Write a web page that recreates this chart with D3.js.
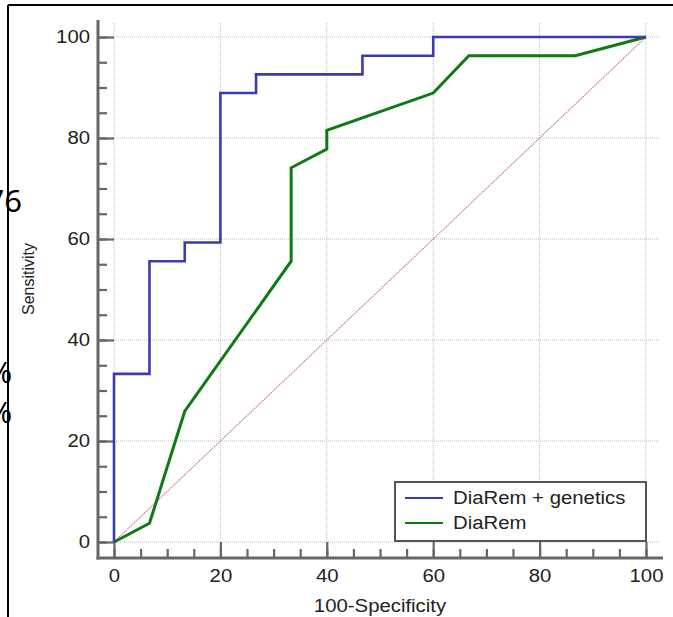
<!DOCTYPE html>
<html>
<head>
<meta charset="utf-8">
<script src="https://cdn.jsdelivr.net/npm/d3@7"></script>
<style>
  body { margin: 0; background: #fff; }
  text { font-family: "Liberation Sans", Arial, sans-serif; fill: #222; }
</style>
</head>
<body>
<div id="chart"></div>
<script>
var width = 673,
    height = 617;

// ROC points, x = 100-Specificity, y = Sensitivity
var genX = [0, 0, 6.67, 6.67, 13.3, 13.3, 20, 20, 26.7, 26.7, 46.7, 46.7, 60, 60, 100];
var genY = [0, 33.3, 33.3, 55.6, 55.6, 59.3, 59.3, 88.9, 88.9, 92.6, 92.6, 96.3, 96.3, 100, 100];
var diaX = [0, 6.67, 13.3, 33.3, 33.3, 40, 40, 60, 66.7, 86.7, 100];
var diaY = [0, 3.7, 25.9, 55.6, 74.1, 77.8, 81.5, 88.9, 96.3, 96.3, 100];
var majorTicks = [0, 20, 40, 60, 80, 100];
var minorTicks = d3.range(0, 101, 5);
var seriesNames = ["DiaRem + genetics", "DiaRem"];
var seriesColors = ["#3b3bb0", "#0f7a12"];

var svg = d3.select("#chart").append("svg").attr("width", width).attr("height", height);

var x = d3.scaleLinear().domain([0, 100]).range([114, 646]);
var y = d3.scaleLinear().domain([0, 100]).range([542, 37]);

// widen horizontal text a little, the source picture was stretched
function stretch(sel) {
  sel.each(function() {
    var len = this.getComputedTextLength();
    d3.select(this).attr("textLength", len * 1.13).attr("lengthAdjust", "spacingAndGlyphs");
  });
}

// slide leftovers
svg.append("line").attr("x1", 8).attr("y1", 5).attr("x2", width).attr("y2", 5)
  .attr("stroke", "#000").attr("stroke-width", 2);
svg.append("line").attr("x1", 8).attr("y1", 5).attr("x2", 8).attr("y2", height)
  .attr("stroke", "#000").attr("stroke-width", 2);
svg.append("text").attr("x", 22).attr("y", 212).attr("text-anchor", "end").text("76")
  .style("font-family", "Noto Sans").style("font-size", "31px").style("fill", "#000");
svg.append("text").attr("x", 12).attr("y", 383).attr("text-anchor", "end").text("%")
  .style("font-family", "Noto Sans").style("font-size", "29px").style("fill", "#000");
svg.append("text").attr("x", 12).attr("y", 423).attr("text-anchor", "end").text("%")
  .style("font-family", "Noto Sans").style("font-size", "29px").style("fill", "#000");

// grid
var grid = svg.append("g").attr("stroke", "#bdbdbd").attr("stroke-width", 1).attr("stroke-dasharray", "1,1");
grid.selectAll(".gx").data(majorTicks).enter().append("line")
  .attr("x1", d => x(d)).attr("x2", d => x(d))
  .attr("y1", y(100) - 14).attr("y2", y(0));
grid.selectAll(".gy").data(majorTicks).enter().append("line")
  .attr("y1", d => y(d)).attr("y2", d => y(d))
  .attr("x1", x(0)).attr("x2", x(100) + 14);

// axes
var axisColor = "#666";
var yAxisX = x(0) - 16, xAxisY = y(0) + 16;

var yMinor = svg.append("g").attr("transform", "translate(" + yAxisX + ",0)")
  .call(d3.axisLeft(y).tickValues(minorTicks).tickSizeInner(-9).tickSizeOuter(0).tickFormat(""));
var yMajor = svg.append("g").attr("transform", "translate(" + yAxisX + ",0)")
  .call(d3.axisLeft(y).tickValues(majorTicks).tickSizeInner(-16).tickSizeOuter(0).tickPadding(8));
var xMinor = svg.append("g").attr("transform", "translate(0," + xAxisY + ")")
  .call(d3.axisBottom(x).tickValues(minorTicks).tickSizeInner(-9).tickSizeOuter(0).tickFormat(""));
var xMajor = svg.append("g").attr("transform", "translate(0," + xAxisY + ")")
  .call(d3.axisBottom(x).tickValues(majorTicks).tickSizeInner(-16).tickSizeOuter(0).tickPadding(11));

[yMinor, yMajor, xMinor, xMajor].forEach(function(g) {
  g.select(".domain").remove();
  g.selectAll(".tick line").attr("stroke", axisColor).attr("stroke-width", 2.2);
  g.selectAll(".tick text").style("font-size", "18px").style("font-family", "Liberation Sans").attr("fill", "#222");
});
yMajor.selectAll(".tick text").call(stretch);
xMajor.selectAll(".tick text").call(stretch);

svg.append("line").attr("x1", yAxisX).attr("x2", yAxisX)
  .attr("y1", y(100) - 17).attr("y2", xAxisY + 1.5)
  .attr("stroke", axisColor).attr("stroke-width", 3);
svg.append("line").attr("x1", yAxisX - 1.5).attr("x2", x(100) + 17)
  .attr("y1", xAxisY).attr("y2", xAxisY)
  .attr("stroke", axisColor).attr("stroke-width", 3);

// titles
svg.append("text").attr("x", (x(0) + x(100)) / 2).attr("y", 612)
  .attr("text-anchor", "middle").style("font-size", "18px").text("100-Specificity").call(stretch);
svg.append("text").attr("transform", "translate(34,279) rotate(-90)")
  .attr("text-anchor", "middle").style("font-size", "16px").text("Sensitivity");

// reference diagonal
svg.append("line").attr("x1", x(0)).attr("y1", y(0)).attr("x2", x(100)).attr("y2", y(100))
  .attr("stroke", "#cf7a7a").attr("stroke-width", 1.1).attr("stroke-dasharray", "1.5,0.8");

// ROC curves
var line = d3.line().x(d => x(d[0])).y(d => y(d[1]));
var series = [d3.zip(genX, genY), d3.zip(diaX, diaY)];

svg.append("path").datum(series[1]).attr("d", line)
  .attr("fill", "none").attr("stroke", seriesColors[1]).attr("stroke-width", 3)
  .attr("stroke-linejoin", "miter");
svg.append("path").datum(series[0]).attr("d", line)
  .attr("fill", "none").attr("stroke", seriesColors[0]).attr("stroke-width", 2.6)
  .attr("stroke-linejoin", "miter");

// legend
var legend = svg.append("g").attr("transform", "translate(395,482)");
legend.append("rect").attr("width", 251).attr("height", 59)
  .attr("fill", "#fff").attr("stroke", "#555").attr("stroke-width", 2);
var item = legend.selectAll(".item").data(seriesNames).enter().append("g")
  .attr("transform", (d, i) => "translate(0," + (16 + i * 25) + ")");
item.append("line").attr("x1", 10).attr("x2", 48)
  .attr("stroke", (d, i) => seriesColors[i]).attr("stroke-width", 2);
item.append("text").attr("x", 58).attr("y", 6).style("font-size", "18px")
  .text(d => d).call(stretch);
</script>
</body>
</html>
